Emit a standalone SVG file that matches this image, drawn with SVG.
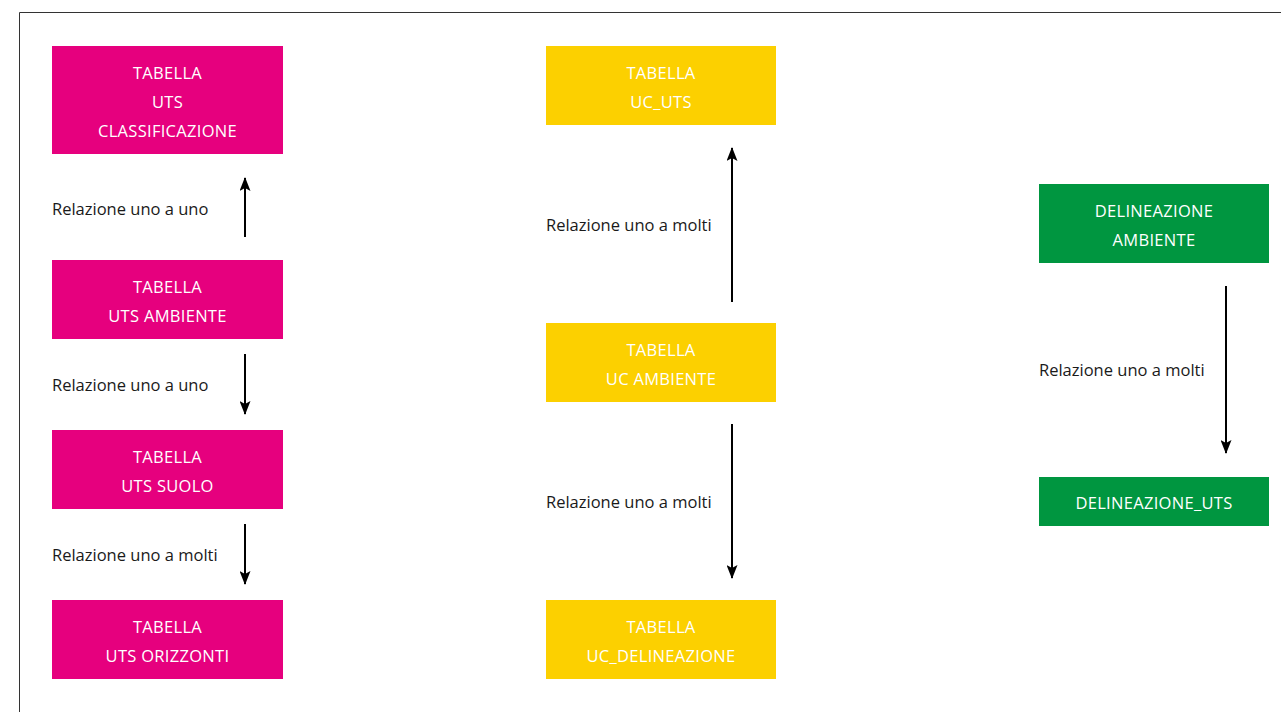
<svg xmlns="http://www.w3.org/2000/svg" width="1281" height="712" viewBox="0 0 1281 712">
<defs>
<style>
.pink{fill:#E6007E}
.yellow{fill:#FCD000}
.green{fill:#009640}
.nt{font-family:"Open Sans","Liberation Sans",sans-serif;font-size:16.5px;letter-spacing:0.3px;fill:#ffffff;text-anchor:middle}
.lbl{font-family:"Open Sans","Liberation Sans",sans-serif;font-size:16.5px;fill:#1a1a1a}
.conn{stroke:#000;stroke-width:2;fill:none}
</style>
<marker id="ah" viewBox="0 0 14 11" refX="13" refY="5.5" markerWidth="14" markerHeight="11" markerUnits="userSpaceOnUse" orient="auto">
<path d="M0,0 L14,5.5 L0,11 L3,5.5 Z" fill="#000"/>
</marker>
</defs>
<rect x="0" y="0" width="1281" height="712" fill="#fff"/>
<path d="M19.5,712 V12.5 H1281" fill="none" stroke="#333" stroke-width="1"/>

<g id="uts-classificazione">
<rect class="pink" x="52" y="46" width="231" height="108"/>
<text class="nt" x="167.5" y="79">TABELLA</text>
<text class="nt" x="167.5" y="108">UTS</text>
<text class="nt" x="167.5" y="137">CLASSIFICAZIONE</text>
</g>
<g id="uts-ambiente">
<rect class="pink" x="52" y="260" width="231" height="79"/>
<text class="nt" x="167.5" y="293">TABELLA</text>
<text class="nt" x="167.5" y="322">UTS AMBIENTE</text>
</g>
<g id="uts-suolo">
<rect class="pink" x="52" y="430" width="231" height="79"/>
<text class="nt" x="167.5" y="463">TABELLA</text>
<text class="nt" x="167.5" y="492">UTS SUOLO</text>
</g>
<g id="uts-orizzonti">
<rect class="pink" x="52" y="600" width="231" height="79"/>
<text class="nt" x="167.5" y="633">TABELLA</text>
<text class="nt" x="167.5" y="662">UTS ORIZZONTI</text>
</g>

<g id="uc-uts">
<rect class="yellow" x="546" y="46" width="230" height="79"/>
<text class="nt" x="661" y="79">TABELLA</text>
<text class="nt" x="661" y="108">UC_UTS</text>
</g>
<g id="uc-ambiente">
<rect class="yellow" x="546" y="323" width="230" height="79"/>
<text class="nt" x="661" y="356">TABELLA</text>
<text class="nt" x="661" y="385">UC AMBIENTE</text>
</g>
<g id="uc-delineazione">
<rect class="yellow" x="546" y="600" width="230" height="79"/>
<text class="nt" x="661" y="633">TABELLA</text>
<text class="nt" x="661" y="662">UC_DELINEAZIONE</text>
</g>

<g id="delineazione-ambiente">
<rect class="green" x="1039" y="184" width="230" height="79"/>
<text class="nt" x="1154" y="217">DELINEAZIONE</text>
<text class="nt" x="1154" y="246">AMBIENTE</text>
</g>
<g id="delineazione-uts">
<rect class="green" x="1039" y="477" width="230" height="49"/>
<text class="nt" x="1154" y="509">DELINEAZIONE_UTS</text>
</g>

<g id="connectors">
<line class="conn" x1="245" y1="237" x2="245" y2="178" marker-end="url(#ah)"/>
<line class="conn" x1="245" y1="354" x2="245" y2="414" marker-end="url(#ah)"/>
<line class="conn" x1="245" y1="524" x2="245" y2="584" marker-end="url(#ah)"/>
<line class="conn" x1="732" y1="302" x2="732" y2="148" marker-end="url(#ah)"/>
<line class="conn" x1="732" y1="424" x2="732" y2="578" marker-end="url(#ah)"/>
<line class="conn" x1="1226" y1="286" x2="1226" y2="453" marker-end="url(#ah)"/>
<text class="lbl" x="52" y="215">Relazione uno a uno</text>
<text class="lbl" x="52" y="391">Relazione uno a uno</text>
<text class="lbl" x="52" y="561">Relazione uno a molti</text>
<text class="lbl" x="546" y="231">Relazione uno a molti</text>
<text class="lbl" x="546" y="508">Relazione uno a molti</text>
<text class="lbl" x="1039" y="376">Relazione uno a molti</text>
</g>
</svg>
